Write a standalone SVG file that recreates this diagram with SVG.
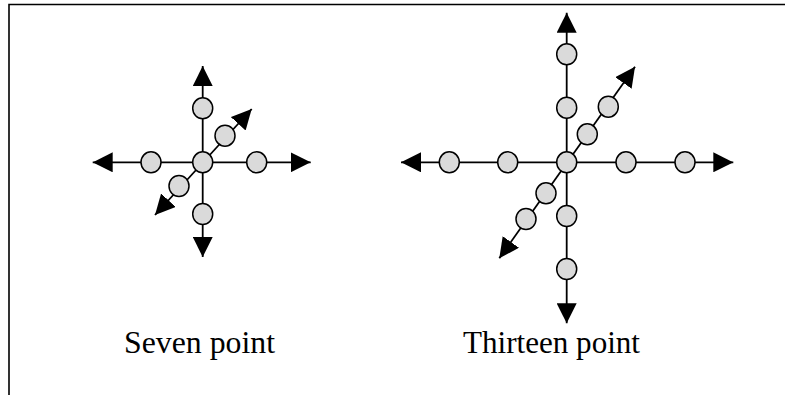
<svg xmlns="http://www.w3.org/2000/svg" width="785" height="395" viewBox="0 0 785 395">
<style>
.ax{stroke:#000;stroke-width:1.8;fill:none;marker-start:url(#ah);marker-end:url(#ah)}
.pt{fill:#dadada;stroke:#000;stroke-width:1.5}
.lbl{font-family:"Liberation Serif","Times New Roman",serif;font-size:31.5px;fill:#000}
</style>
<defs>
<marker id="ah" viewBox="0 0 20 20" refX="20" refY="10" markerWidth="20" markerHeight="20" markerUnits="userSpaceOnUse" orient="auto-start-reverse">
<path d="M0,0 L20,10 L0,20 z" fill="#000"/>
</marker>
</defs>
<rect width="785" height="395" fill="#fff"/>
<path d="M9,395 V4.5 H785" fill="none" stroke="#000" stroke-width="1.6"/>
<g id="connectors">
<line class="ax" x1="92.7" y1="162.3" x2="310.7" y2="162.3"/>
<line class="ax" x1="202.7" y1="66" x2="202.7" y2="257"/>
<line class="ax" x1="155" y1="215" x2="251.7" y2="109"/>
<line class="ax" x1="401" y1="162.3" x2="733.3" y2="162.3"/>
<line class="ax" x1="566.7" y1="12.7" x2="566.7" y2="323.3"/>
<line class="ax" x1="499.3" y1="258.3" x2="635" y2="66.7"/>
</g>
<g id="seven-point">
<g id="s-center"><ellipse class="pt" cx="202.7" cy="162.3" rx="10" ry="10.5"/></g>
<g id="s-left"><ellipse class="pt" cx="151" cy="162.3" rx="10" ry="10.5"/></g>
<g id="s-right"><ellipse class="pt" cx="256.7" cy="162.3" rx="10" ry="10.5"/></g>
<g id="s-top"><ellipse class="pt" cx="202.7" cy="108.3" rx="10" ry="10.5"/></g>
<g id="s-bottom"><ellipse class="pt" cx="202.7" cy="214" rx="10" ry="10.5"/></g>
<g id="s-diag-up"><ellipse class="pt" cx="225" cy="135.7" rx="10" ry="10.5"/></g>
<g id="s-diag-down"><ellipse class="pt" cx="179" cy="186" rx="10" ry="10.5"/></g>
</g>
<g id="thirteen-point">
<g id="t-center"><ellipse class="pt" cx="566.7" cy="162.3" rx="10" ry="10.5"/></g>
<g id="t-left2"><ellipse class="pt" cx="449.3" cy="162.3" rx="10" ry="10.5"/></g>
<g id="t-left1"><ellipse class="pt" cx="507.7" cy="162.3" rx="10" ry="10.5"/></g>
<g id="t-right1"><ellipse class="pt" cx="626" cy="162.3" rx="10" ry="10.5"/></g>
<g id="t-right2"><ellipse class="pt" cx="685" cy="162.3" rx="10" ry="10.5"/></g>
<g id="t-top2"><ellipse class="pt" cx="566.7" cy="54.3" rx="10" ry="10.5"/></g>
<g id="t-top1"><ellipse class="pt" cx="566.7" cy="107.7" rx="10" ry="10.5"/></g>
<g id="t-bottom1"><ellipse class="pt" cx="566.7" cy="216" rx="10" ry="10.5"/></g>
<g id="t-bottom2"><ellipse class="pt" cx="566.7" cy="269" rx="10" ry="10.5"/></g>
<g id="t-diag-up1"><ellipse class="pt" cx="587.3" cy="134.3" rx="10" ry="10.5"/></g>
<g id="t-diag-up2"><ellipse class="pt" cx="608.3" cy="106.7" rx="10" ry="10.5"/></g>
<g id="t-diag-down1"><ellipse class="pt" cx="546" cy="193.3" rx="10" ry="10.5"/></g>
<g id="t-diag-down2"><ellipse class="pt" cx="526" cy="219" rx="10" ry="10.5"/></g>
</g>
<text class="lbl" x="124" y="353" textLength="151" lengthAdjust="spacingAndGlyphs">Seven point</text>
<text class="lbl" x="463" y="353" textLength="177" lengthAdjust="spacingAndGlyphs">Thirteen point</text>
</svg>
